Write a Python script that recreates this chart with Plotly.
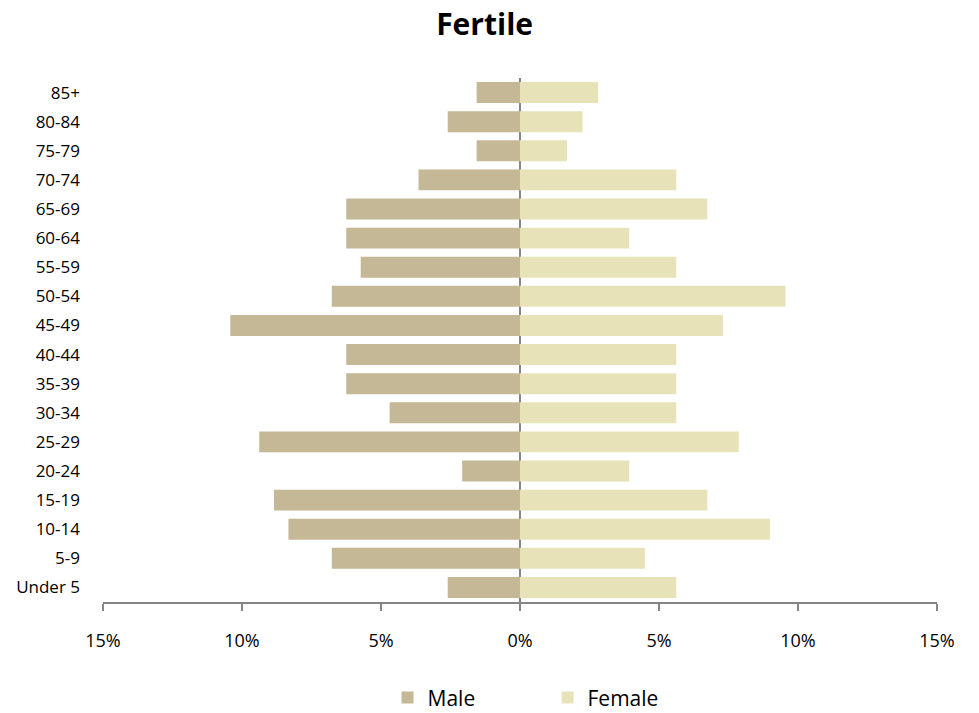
import plotly.graph_objects as go

age_groups = ["Under 5", "5-9", "10-14", "15-19", "20-24", "25-29", "30-34", "35-39",
              "40-44", "45-49", "50-54", "55-59", "60-64", "65-69", "70-74", "75-79",
              "80-84", "85+"]
male_pct = [2.60, 6.77, 8.33, 8.85, 2.08, 9.38, 4.69, 6.25, 6.25, 10.42, 6.77, 5.73,
            6.25, 6.25, 3.65, 1.56, 2.60, 1.56]
female_pct = [5.62, 4.49, 8.99, 6.74, 3.93, 7.87, 5.62, 5.62, 5.62, 7.30, 9.55, 5.62,
              3.93, 6.74, 5.62, 1.69, 2.25, 2.81]
tick_values = [-15, -10, -5, 0, 5, 10, 15]
tick_labels = ["15%", "10%", "5%", "0%", "5%", "10%", "15%"]

male_color = "rgb(196,184,150)"
female_color = "rgb(232,226,184)"
axis_color = "#868686"
font_family = "'Open Sans', Lato, sans-serif"

fig = go.Figure()
fig.add_trace(go.Bar(
    y=age_groups, x=[-v for v in male_pct], orientation="h", name="Male",
    marker=dict(color=male_color, line=dict(width=0)),
))
fig.add_trace(go.Bar(
    y=age_groups, x=female_pct, orientation="h", name="Female",
    marker=dict(color=female_color, line=dict(width=0)),
))

fig.update_layout(
    width=979, height=713,
    paper_bgcolor="white", plot_bgcolor="white",
    barmode="relative", bargap=0.28,
    margin=dict(l=103, r=42, t=78, b=111, autoexpand=False),
    font=dict(family=font_family, size=18, color="#000000"),
    title=dict(text="<b>Fertile</b>", x=0.495, xanchor="center", xref="container",
               y=0.966, yanchor="middle", yref="container",
               font=dict(family=font_family, size=30, color="#000000")),
    legend=dict(orientation="h", x=0.533, xanchor="center", xref="paper",
                y=-0.183, yanchor="middle", font=dict(size=21),
                entrywidth=115, entrywidthmode="pixels", traceorder="normal"),
    showlegend=True,
)
fig.update_xaxes(
    range=[-15, 15], tickvals=tick_values, ticktext=tick_labels,
    showgrid=False, zeroline=True, zerolinecolor=axis_color, zerolinewidth=2,
    showline=True, linecolor=axis_color, linewidth=2,
    ticks="outside", ticklen=7, tickwidth=2, tickcolor=axis_color,
    tickfont=dict(size=18), ticklabelstandoff=14, layer="above traces",
)
fig.update_yaxes(
    type="category", showgrid=False, zeroline=False, showline=False,
    ticks="", tickfont=dict(size=17), ticklabelstandoff=22,
)

# remove the browser's default 8px body margin so the figure fills the window exactly
fig.write_html("out.html",
               config={"displayModeBar": False},
               post_script="document.body.style.margin='0';document.body.style.overflow='hidden';")
